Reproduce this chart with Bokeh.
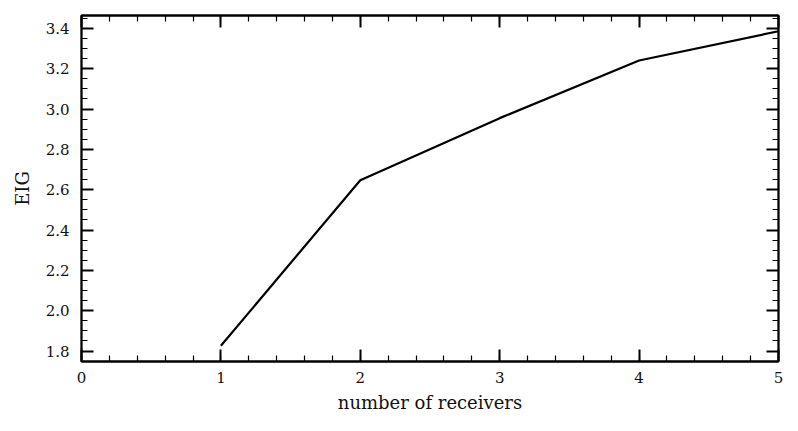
from bokeh.plotting import figure
from bokeh.models import LinearAxis, Range1d, FixedTicker, CustomJSTickFormatter, NumeralTickFormatter
from bokeh.embed import file_html
from bokeh.resources import INLINE

receivers = [1, 2, 3, 4, 5]
eig = [1.826, 2.647, 2.955, 3.241, 3.386]

x_ticks = [0, 1, 2, 3, 4, 5]
x_minor = [i * 0.2 for i in range(0, 26)]
y_ticks = [1.8, 2.0, 2.2, 2.4, 2.6, 2.8, 3.0, 3.2, 3.4]
y_minor = [round(1.75 + i * 0.05, 2) for i in range(0, 36)]

ymin, ymax = min(eig), max(eig)
pad = 0.05 * (ymax - ymin)

FONT = "DejaVu Serif"

p = figure(width=798, height=431, output_backend="svg", toolbar_location=None,
           x_range=Range1d(0, 5), y_range=Range1d(ymin - pad, ymax + pad),
           min_border_left=81, min_border_right=20, min_border_top=15, min_border_bottom=70,
           x_axis_label="number of receivers", y_axis_label="EIG")
p.grid.visible = False
p.outline_line_color = "black"
p.outline_line_width = 1.8
p.background_fill_color = "white"
p.border_fill_color = "white"

p.line(receivers, eig, line_color="black", line_width=2.2)

def style(ax, ticks, minor, labels=True):
    ax.ticker = FixedTicker(ticks=ticks, minor_ticks=minor)
    ax.axis_line_color = "black"
    ax.axis_line_width = 1.8
    ax.major_tick_in = 12
    ax.major_tick_out = 0
    ax.minor_tick_in = 6
    ax.minor_tick_out = 0
    ax.major_tick_line_width = 2
    ax.minor_tick_line_width = 1.2
    ax.major_tick_line_color = "black"
    ax.minor_tick_line_color = "black"
    ax.major_label_text_font = FONT
    ax.major_label_text_font_size = "15px"
    ax.major_label_text_color = "#111111"
    ax.axis_label_text_font = FONT
    ax.axis_label_text_font_size = "18px"
    ax.axis_label_text_font_style = "normal"
    ax.axis_label_text_color = "#111111"
    if not labels:
        ax.formatter = CustomJSTickFormatter(code="return ''")
        ax.major_label_standoff = 0
        ax.major_label_text_font_size = "0px"

style(p.xaxis[0], x_ticks, x_minor)
p.xaxis[0].major_label_standoff = 10
p.xaxis[0].axis_label_standoff = 6
style(p.yaxis[0], y_ticks, y_minor)
p.yaxis[0].formatter = NumeralTickFormatter(format="0.0")
p.yaxis[0].major_label_standoff = 12
p.yaxis[0].axis_label_standoff = 10

top = LinearAxis()
style(top, x_ticks, x_minor, labels=False)
p.add_layout(top, "above")
right = LinearAxis()
style(right, y_ticks, y_minor, labels=False)
p.add_layout(right, "right")

open("out.html", "w").write(file_html(p, INLINE))
